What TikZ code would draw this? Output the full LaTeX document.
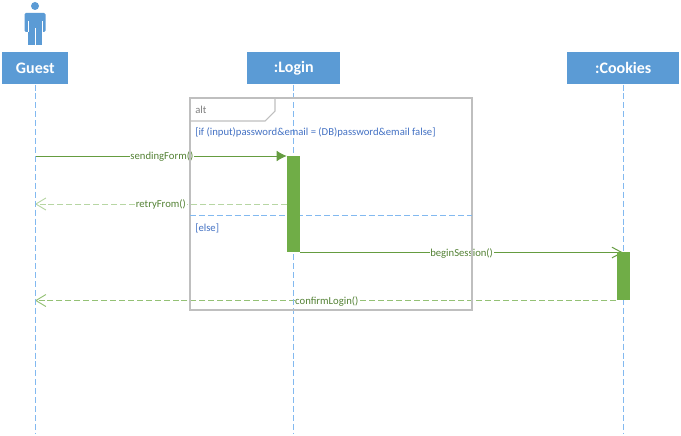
\documentclass[tikz,border=0pt]{standalone}
\usepackage{fontspec}
\setmainfont{Carlito}
\usetikzlibrary{arrows.meta,backgrounds}
\definecolor{hdblue}{RGB}{91,155,213}
\definecolor{lineblue}{RGB}{130,185,240}
\definecolor{msggreen}{RGB}{112,173,71}
\definecolor{txtgreen}{RGB}{84,130,53}
\definecolor{txtblue}{RGB}{68,114,196}
\definecolor{framegray}{RGB}{191,191,191}
\tikzset{
    header/.style={draw=none, fill=hdblue, text=white, font=\fontsize{12}{14}\selectfont\bfseries, minimum height=24pt, inner sep=0pt, anchor=north west},
    lifeline/.style={draw=lineblue, dash pattern=on 4.5pt off 2.2pt, line width=0.75pt},
    activation/.style={draw=none, fill=msggreen, minimum width=9.75pt, inner sep=0pt, anchor=north},
    msg/.style={draw=msggreen!90!black, line width=0.75pt},
    reply/.style={draw=msggreen!75, dash pattern=on 4.5pt off 2.2pt, line width=0.7pt},
    msglabel/.style={fill=white, text=txtgreen, inner sep=0.5pt, yshift=-0.7pt, font=\fontsize{8}{10}\selectfont},
    guardlabel/.style={text=txtblue, inner sep=0pt, anchor=west, font=\fontsize{8}{10}\selectfont}
}
\begin{document}
\begin{tikzpicture}[x=0.75pt, y=-0.75pt]
    \useasboundingbox (0,0) rectangle (681,435);
    % actor
    \fill[hdblue] (35,6) circle (4);
    \fill[hdblue, rounded corners=1] (24.5,13) rectangle (45.5,32);
    \fill[hdblue] (28,30) rectangle (42,45.5);
    \draw[white, line width=0.3pt] (27.8,21) -- (27.8,32);
    \draw[white, line width=0.3pt] (42.2,21) -- (42.2,32);
    \draw[white, line width=0.5pt] (35,28) -- (35,45.5);
    % headers
    \node[header, minimum width=49.5pt] (guest) at (2,52) {Guest};
    \node[header, minimum width=69.75pt] (login) at (247,52) {:Login};
    \node[header, minimum width=84pt] (cookies) at (567,52) {:Cookies};
    % lifeline ends
    \coordinate (guestend) at (35,433);
    \coordinate (loginend) at (293,433);
    \coordinate (cookiesend) at (623,433);
    \draw[lifeline] (guest.south -| guestend) -- (guestend);
    \draw[lifeline] (login.south -| loginend) -- (loginend);
    \draw[lifeline] (cookies.south -| cookiesend) -- (cookiesend);
    % alt frame
    \draw[framegray, line width=0.9pt] (190,98) rectangle (472,310);
    \draw[framegray, line width=0.8pt] (190,121) -- (265,121) -- (275,111) -- (275,98);
    \node[text=gray, inner sep=0pt, anchor=west, font=\fontsize{8}{10}\selectfont] (alttag) at (195,109.5) {alt};
    \node[guardlabel] (guardif) at (195,132) {[if (input)password\&email = (DB)password\&email false]};
    \node[guardlabel] (guardelse) at (195,228) {[else]};
    \draw[lifeline] (190,215) -- (472,215);
    % activations
    \node[activation, minimum height=72pt] (actlogin) at (293.5,156) {};
    \node[activation, minimum height=36pt] (actcookies) at (623,252) {};
    % messages
    \coordinate (guestsend) at (35,156);
    \coordinate (guestretry) at (35,204);
    \coordinate (guestconfirm) at (35,300);
    \begin{pgfonlayer}{background}
    \fill[white] (0,0) rectangle (681,435);
    \draw[msg, -{Latex[length=7.5pt,width=8pt]}] (guestsend) -- (guestsend -| actlogin.west) node[msglabel, pos=0.504] (sendlabel) {sendingForm()};
    \draw[reply, draw=msggreen!50, -{Straight Barb[length=7.5pt,width=9pt]}] (guestretry -| actlogin.west) -- (guestretry) node[msglabel, pos=0.5] (retrylabel) {retryFrom()};
    \draw[msg, -{Straight Barb[length=7.5pt,width=8pt]}] (actlogin.south east) -- (actlogin.south east -| actcookies.center) node[msglabel, pos=0.5] (beginlabel) {beginSession()};
    \draw[reply, -{Straight Barb[length=7.5pt,width=9pt]}] (actcookies.south west) -- (actcookies.south west -| guestconfirm) node[msglabel, pos=0.498] (confirmlabel) {confirmLogin()};
    \end{pgfonlayer}
\end{tikzpicture}
\end{document}
